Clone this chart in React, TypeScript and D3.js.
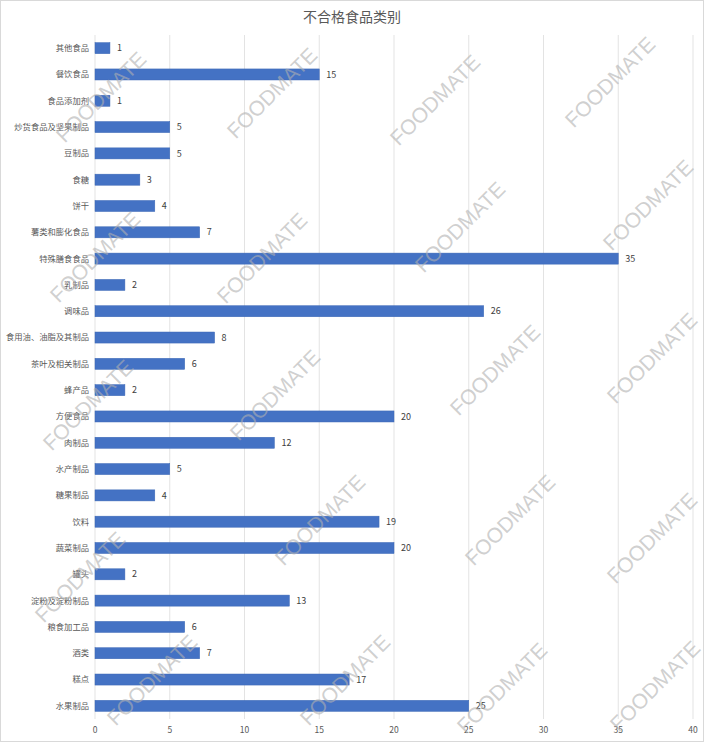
import React from 'react';
import * as d3 from 'd3';

// category names, top to bottom
const categories = [
  '其他食品',
  '餐饮食品',
  '食品添加剂',
  '炒货食品及坚果制品',
  '豆制品',
  '食糖',
  '饼干',
  '薯类和膨化食品',
  '特殊膳食食品',
  '乳制品',
  '调味品',
  '食用油、油脂及其制品',
  '茶叶及相关制品',
  '蜂产品',
  '方便食品',
  '肉制品',
  '水产制品',
  '糖果制品',
  '饮料',
  '蔬菜制品',
  '罐头',
  '淀粉及淀粉制品',
  '粮食加工品',
  '酒类',
  '糕点',
  '水果制品',
];

const counts = [1, 15, 1, 5, 5, 3, 4, 7, 35, 2, 26, 8, 6, 2, 20, 12, 5, 4, 19, 20, 2, 13, 6, 7, 17, 25];

const xTicks = [0, 5, 10, 15, 20, 25, 30, 35, 40];

const title = '不合格食品类别';
const watermarkText = 'FOODMATE';

// watermark centres (decoration only)
const watermarks: [number, number][] = [
  [101, 97], [272, 93], [435, 100], [610, 82],
  [95, 257], [262, 258], [460, 227], [648, 205],
  [88, 405], [275, 395], [495, 370], [652, 358],
  [80, 577], [320, 520], [510, 520], [652, 538],
  [152, 680], [345, 680], [502, 688], [655, 686],
];

const W = 704;
const H = 742;
const margin = { top: 35, right: 11, bottom: 23, left: 95 };

const App: React.FC = () => {
  const x = d3.scaleLinear().domain([0, 40]).range([margin.left, W - margin.right]);
  const y = d3
    .scaleBand<string>()
    .domain(categories)
    .range([margin.top, H - margin.bottom])
    .paddingInner(0.58)
    .paddingOuter(0.29);

  const font = '"Noto Sans CJK SC", "Noto Sans", sans-serif';

  return (
    <svg
      width={W}
      height={H}
      style={{ position: 'absolute', left: 0, top: 0, background: '#fff' }}
    >
      <rect x={0.5} y={0.5} width={W - 1} height={H - 1} fill="#fff" stroke="#d9d9d9" />

      {/* grid */}
      {xTicks.map((t) => (
        <line
          key={t}
          x1={x(t)}
          x2={x(t)}
          y1={margin.top}
          y2={H - margin.bottom}
          stroke="#e3e3e3"
          strokeWidth={1}
        />
      ))}

      {/* bars */}
      {categories.map((c, i) => (
        <g key={c}>
          <rect
            x={x(0)}
            y={y(c)}
            width={x(counts[i]) - x(0)}
            height={y.bandwidth()}
            fill="#4472C4"
            stroke="#3d68b5"
            strokeWidth={0.5}
          />
          <text
            x={x(counts[i]) + 7}
            y={(y(c) ?? 0) + y.bandwidth() / 2}
            dy="0.35em"
            fontSize={9}
            fill="#404040"
            fontFamily={font}
          >
            {counts[i]}
          </text>
          <text
            x={x(0) - 6}
            y={(y(c) ?? 0) + y.bandwidth() / 2}
            dy="0.35em"
            textAnchor="end"
            fontSize={8.3}
            fill="#595959"
            fontFamily={font}
          >
            {c}
          </text>
        </g>
      ))}

      {/* x tick labels */}
      {xTicks.map((t) => (
        <text
          key={`l${t}`}
          x={x(t)}
          y={730}
          dy="0.35em"
          textAnchor="middle"
          fontSize={8.5}
          fill="#595959"
          fontFamily={font}
        >
          {t}
        </text>
      ))}

      <text
        x={W / 2}
        y={17}
        dy="0.35em"
        textAnchor="middle"
        fontSize={14}
        fill="#595959"
        fontFamily={font}
      >
        {title}
      </text>

      {/* watermark */}
      {watermarks.map(([cx, cy], i) => (
        <text
          key={`w${i}`}
          x={cx}
          y={cy}
          dy="0.35em"
          textAnchor="middle"
          fontSize={21}
          fontFamily='"Liberation Sans", Arial, sans-serif'
          fill="#b0b0b0"
          fillOpacity={0.6}
          transform={`rotate(-45 ${cx} ${cy})`}
        >
          {watermarkText}
        </text>
      ))}
    </svg>
  );
};

export default App;
